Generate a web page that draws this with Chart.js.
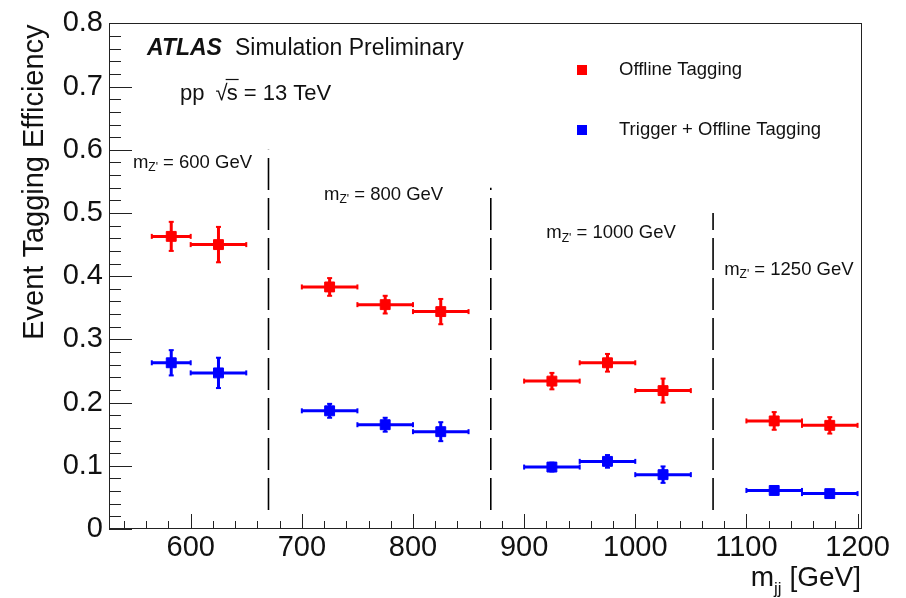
<!DOCTYPE html>
<html>
<head>
<meta charset="utf-8">
<script src="https://cdn.jsdelivr.net/npm/chart.js@4"></script>
<style>
  html, body { margin: 0; padding: 0; background: #fff; }
  canvas { display: block; }
</style>
</head>
<body>
<canvas id="chart" width="906" height="598"></canvas>
<script>
// bins in m_jj [GeV]
const binCenters = [582.5, 625, 725, 775, 825, 925, 975, 1025, 1125, 1175];
const binLow     = [565, 600, 700, 750, 800, 900, 950, 1000, 1100, 1150];
const binHigh    = [600, 650, 750, 800, 850, 950, 1000, 1050, 1150, 1200];

// efficiencies
const offlineEff = [0.463, 0.450, 0.383, 0.355, 0.344, 0.234, 0.263, 0.219, 0.171, 0.164];
const offlineErr = [0.023, 0.028, 0.014, 0.014, 0.020, 0.013, 0.014, 0.019, 0.014, 0.013];
const triggerEff = [0.263, 0.247, 0.187, 0.165, 0.154, 0.098, 0.107, 0.086, 0.061, 0.056];
const triggerErr = [0.020, 0.024, 0.011, 0.011, 0.015, 0.007, 0.010, 0.013, 0.006, 0.006];

// Z' mass groups and the dashed separators between them
const zMasses = ["600", "800", "1000", "1250"];
const dividerX = [670, 870, 1070];
const dividerTop = [0.6, 0.54, 0.5];
const dividerBottom = 0.03;

const xTicks = [600, 700, 800, 900, 1000, 1100, 1200];
const yTicks = [0, 0.1, 0.2, 0.3, 0.4, 0.5, 0.6, 0.7, 0.8];

const FONT = "'Liberation Sans', Arial, Helvetica, sans-serif";
const RED = "#ff0000";
const BLUE = "#0000ff";
const INK = "#111";

const points = (vals) => binCenters.map((x, i) => ({ x: x, y: vals[i] }));

const dividerSets = dividerX.map((x, i) => ({
  data: [{ x: x, y: dividerBottom }, { x: x, y: dividerTop[i] }],
  showLine: true,
  borderColor: "#000",
  borderWidth: 1.6,
  borderDash: [32, 8],
  pointRadius: 0,
}));

function drawErrors(ctx, x, y, vals, errs, color) {
  ctx.strokeStyle = color;
  ctx.lineWidth = 3;
  binCenters.forEach((c, i) => {
    const px = x.getPixelForValue(c);
    const py = y.getPixelForValue(vals[i]);
    const x1 = x.getPixelForValue(binLow[i]);
    const x2 = x.getPixelForValue(binHigh[i]);
    const yHi = y.getPixelForValue(vals[i] + errs[i]);
    const yLo = y.getPixelForValue(vals[i] - errs[i]);
    ctx.beginPath();
    ctx.moveTo(x1, py); ctx.lineTo(x2, py);
    ctx.moveTo(px, yHi); ctx.lineTo(px, yLo);
    ctx.stroke();
    // little end caps
    ctx.fillStyle = color;
    ctx.fillRect(x1 - 1, py - 2.5, 2, 5);
    ctx.fillRect(x2 - 1, py - 2.5, 2, 5);
    ctx.fillRect(px - 2.5, yHi - 1, 5, 2);
    ctx.fillRect(px - 2.5, yLo - 1, 5, 2);
  });
}

function massLabel(ctx, left, cy, mass) {
  ctx.textBaseline = "middle";
  ctx.textAlign = "left";
  ctx.font = "18.5px " + FONT;
  ctx.fillText("m", left, cy);
  let cx = left + ctx.measureText("m").width;
  ctx.font = "12px " + FONT;
  ctx.fillText("Z'", cx, cy + 5);
  cx += ctx.measureText("Z'").width;
  ctx.font = "18.5px " + FONT;
  ctx.fillText(" = " + mass + " GeV", cx, cy);
}

const atlasDecor = {
  id: "atlasDecor",
  beforeDatasetsDraw(chart) {
    const { ctx, chartArea: a, scales: { x, y } } = chart;
    ctx.save();
    // frame
    ctx.strokeStyle = "#222";
    ctx.lineWidth = 1;
    ctx.strokeRect(Math.round(a.left) + 0.5, Math.round(a.top) + 0.5,
      Math.round(a.right - a.left) - 1, Math.round(a.bottom - a.top) - 1);

    // inside ticks, x
    ctx.beginPath();
    for (let v = 540; v <= 1200; v += 20) {
      const px = Math.round(x.getPixelForValue(v)) + 0.5;
      const len = v % 100 === 0 ? 15 : 8;
      ctx.moveTo(px, a.bottom);
      ctx.lineTo(px, a.bottom - len);
    }
    // inside ticks, y
    for (let k = 0; k <= 40; k++) {
      const py = Math.round(y.getPixelForValue(k * 0.02)) + 0.5;
      const len = k % 5 === 0 ? 23 : 12;
      ctx.moveTo(a.left, py);
      ctx.lineTo(a.left + len, py);
    }
    ctx.stroke();

    drawErrors(ctx, x, y, offlineEff, offlineErr, RED);
    drawErrors(ctx, x, y, triggerEff, triggerErr, BLUE);
    ctx.restore();
  },
  afterDraw(chart) {
    const { ctx, chartArea: a, scales: { x, y } } = chart;
    ctx.save();
    ctx.fillStyle = INK;

    // y title, aligned to top of axis
    ctx.save();
    ctx.translate(43, a.top + 1);
    ctx.rotate(-Math.PI / 2);
    ctx.font = "29px " + FONT;
    ctx.textAlign = "right";
    ctx.textBaseline = "alphabetic";
    ctx.fillText("Event Tagging Efficiency", 0, 0);
    ctx.restore();

    // x title, aligned to right end
    ctx.textBaseline = "alphabetic";
    ctx.textAlign = "left";
    ctx.font = "28px " + FONT;
    const wTail = ctx.measureText(" [GeV]").width;
    const wM = ctx.measureText("m").width;
    ctx.font = "17px " + FONT;
    const wSub = ctx.measureText("jj").width;
    let tx = a.right - 1 - wTail - wSub - wM;
    ctx.font = "28px " + FONT;
    ctx.fillText("m", tx, 586);
    tx += wM;
    ctx.font = "17px " + FONT;
    ctx.fillText("jj", tx, 594);
    tx += wSub;
    ctx.font = "28px " + FONT;
    ctx.fillText(" [GeV]", tx, 586);

    // ATLAS label
    ctx.textBaseline = "middle";
    ctx.font = "italic bold 23px " + FONT;
    ctx.fillText("ATLAS", 147, 49);
    ctx.font = "23px " + FONT;
    ctx.fillText("Simulation Preliminary", 235, 49);

    ctx.font = "22px " + FONT;
    ctx.fillText("pp", 180, 94);
    const rx = 180 + ctx.measureText("pp ").width + 5;
    ctx.fillText("\u221A", rx, 94);
    const sx = rx + ctx.measureText("\u221A").width - 1;
    ctx.fillText("s = 13 TeV", sx, 94);
    const sw = ctx.measureText("s").width;
    ctx.strokeStyle = INK;
    ctx.lineWidth = 1.2;
    ctx.beginPath();
    ctx.moveTo(sx - 1, 79.5);
    ctx.lineTo(sx + sw + 1, 79.5);
    ctx.stroke();

    // legend
    ctx.font = "18.5px " + FONT;
    ctx.fillStyle = RED;
    ctx.fillRect(577, 65, 10, 10);
    ctx.fillStyle = BLUE;
    ctx.fillRect(577, 125, 10, 10);
    ctx.fillStyle = INK;
    ctx.fillText("Offline Tagging", 619, 70);
    ctx.fillText("Trigger + Offline Tagging", 619, 130);

    // Z' mass labels
    massLabel(ctx, x.getPixelForValue(548), y.getPixelForValue(0.579), zMasses[0]);
    massLabel(ctx, x.getPixelForValue(720), y.getPixelForValue(0.529), zMasses[1]);
    massLabel(ctx, x.getPixelForValue(920), y.getPixelForValue(0.468), zMasses[2]);
    massLabel(ctx, x.getPixelForValue(1080), y.getPixelForValue(0.41), zMasses[3]);
    ctx.restore();
  }
};

new Chart(document.getElementById("chart"), {
  type: "scatter",
  data: {
    datasets: [
      {
        label: "Offline Tagging",
        data: points(offlineEff),
        pointStyle: "rect",
        pointRadius: 7,
        backgroundColor: RED,
        borderColor: RED,
        borderWidth: 1,
      },
      {
        label: "Trigger + Offline Tagging",
        data: points(triggerEff),
        pointStyle: "rect",
        pointRadius: 7,
        backgroundColor: BLUE,
        borderColor: BLUE,
        borderWidth: 1,
      },
      ...dividerSets,
    ],
  },
  options: {
    responsive: false,
    devicePixelRatio: 1,
    animation: false,
    layout: { padding: { top: 19, right: 44, left: 0, bottom: 0 } },
    plugins: {
      legend: { display: false },
      tooltip: { enabled: false },
    },
    scales: {
      x: {
        type: "linear",
        min: 526.5,
        max: 1204,
        grid: { display: false, drawTicks: false },
        border: { display: false },
        afterBuildTicks: (s) => { s.ticks = xTicks.map((v) => ({ value: v })); },
        afterFit: (s) => { s.height = 69; },
        ticks: {
          padding: 2,
          color: INK,
          font: { family: FONT, size: 29 },
          maxRotation: 0,
          callback: (v) => String(v),
        },
      },
      y: {
        type: "linear",
        min: 0,
        max: 0.8,
        grid: { display: false, drawTicks: false },
        border: { display: false },
        afterBuildTicks: (s) => { s.ticks = yTicks.map((v) => ({ value: v })); },
        afterFit: (s) => { s.width = 109; },
        ticks: {
          padding: 6,
          color: INK,
          font: { family: FONT, size: 29 },
          callback: (v) => (v === 0 ? "0" : v.toFixed(1)),
        },
      },
    },
  },
  plugins: [atlasDecor],
});
</script>
</body>
</html>
